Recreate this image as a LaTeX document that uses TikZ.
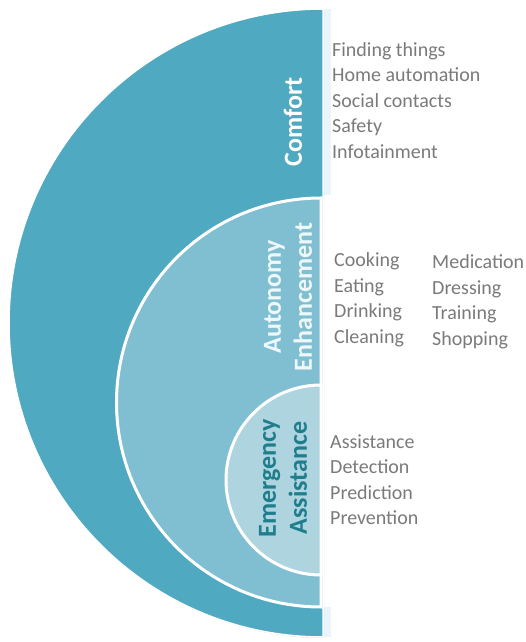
\documentclass[tikz,border=0pt]{standalone}
\usepackage{fontspec}
\setmainfont{Carlito}
\definecolor{cbig}{HTML}{4FA9C0}
\definecolor{cmid}{HTML}{80BFD1}
\definecolor{csmall}{HTML}{AED4E0}
\definecolor{cpale}{HTML}{EAF5F9}
\definecolor{cdark}{HTML}{1F7D8C}
\definecolor{clist}{HTML}{7A7A7A}
\definecolor{cauto}{HTML}{EEF7FA}
\tikzset{
  label/.style={inner sep=0pt, font=\fontsize{26}{31}\selectfont\bfseries, align=center, rotate=90},
  listbox/.style={inner sep=0pt, anchor=west, align=left, text=clist, font=\fontsize{20}{25.5}\selectfont},
  shadowed/.style={black, opacity=0.18}
}
\begin{document}
\begin{tikzpicture}[x=1pt,y=1pt]
\useasboundingbox (0,0) rectangle (526,642);
% pale strips
\fill[cpale] (323,633) rectangle (331,447);
\fill[cpale] (323,35) rectangle (331,5);
% big half disc
\fill[shadowed] (324,632) arc[start angle=90,end angle=270,radius=314pt] -- cycle;
\fill[cbig, draw=white, line width=1.5pt] (323,633) arc[start angle=90,end angle=270,radius=314pt] -- cycle;
% middle half disc
\fill[shadowed] (322,443) arc[start angle=90,end angle=270,radius=204.5pt] -- cycle;
\filldraw[cmid, draw=white, line width=3pt] (321,444) arc[start angle=90,end angle=270,radius=204.5pt] -- cycle;
% small half disc
\fill[shadowed] (322,256) arc[start angle=90,end angle=270,radius=95pt] -- cycle;
\filldraw[csmall, draw=white, line width=3pt] (321,257) arc[start angle=90,end angle=270,radius=95pt] -- cycle;
% labels
\node[label, text=white] (comfort) at (293,520) {Comfort};
\node[label, text=cauto] (autonomy) at (288,345) {Autonomy\\Enhancement};
\node[label, text=cdark] (emergency) at (283,164) {Emergency\\Assistance};
% lists
\node[listbox] (l1) at (332,541.5) {Finding things\\Home automation\\Social contacts\\Safety\\Infotainment};
\node[listbox] (l2) at (334,342) {Cooking\\Eating\\Drinking\\Cleaning};
\node[listbox] (l3) at (432,340) {Medication\\Dressing\\Training\\Shopping};
\node[listbox] (l4) at (330,162.5) {Assistance\\Detection\\Prediction\\Prevention};
\end{tikzpicture}
\end{document}
